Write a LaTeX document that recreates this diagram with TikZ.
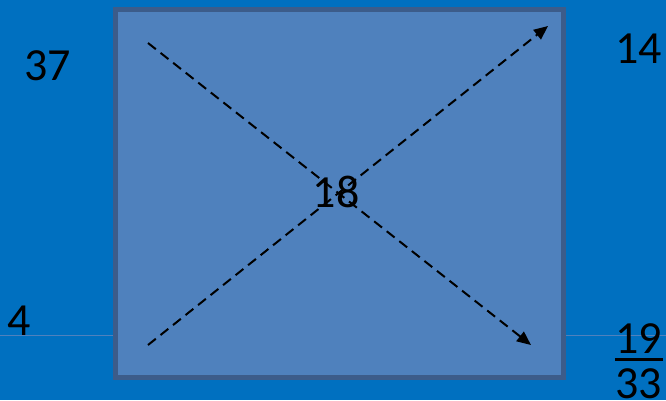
\documentclass[tikz,border=0pt]{standalone}
\usepackage{fontspec}
\setmainfont{Carlito}
\usetikzlibrary{arrows.meta}
\definecolor{bgblue}{RGB}{0,112,192}
\definecolor{boxblue}{RGB}{79,129,189}
\definecolor{edgeblue}{RGB}{60,92,138}

\begin{document}
\begin{tikzpicture}[x=1pt,y=-1pt,
  num/.style={anchor=base, inner sep=0pt, font=\fontsize{46}{46}\selectfont},
  cross/.style={line width=2pt, dashed, dash pattern=on 10pt off 6pt, -{Triangle[length=14pt,width=12pt]}}]
  \fill[bgblue] (0,0) rectangle (666,400);
  \useasboundingbox (0,0) rectangle (666,400);

  % thin rule behind the box
  \draw[boxblue, line width=1.2pt] (0,335.5) -- (666,335.5);

  \node[draw=edgeblue, fill=boxblue, line width=5pt, minimum width=447.5pt, minimum height=368pt,
        inner sep=0pt] (box) at (339.25,193.5) {};

  % corner points of the cross
  \coordinate (tl) at (148,43);
  \coordinate (bl) at (148,345);
  \coordinate (tr) at (548,26);
  \coordinate (br) at (531,345);

  \draw[cross] (tl) -- (br);
  \draw[cross] (bl) -- (tr);

  % numbers
  \node[num] (n37) at (47.5,80) {37};
  \node[num] (n14) at (638.5,63) {14};
  \node[num] (n4) at (19,335) {4};
  \node[num] (n18) at (336,207) {18};
  \node[num] (n19) at (638.5,353) {19};
  \node[num] (n33) at (638.5,398) {33};
  \draw[line width=3pt] (615,359) -- (663,359);
\end{tikzpicture}
\end{document}
